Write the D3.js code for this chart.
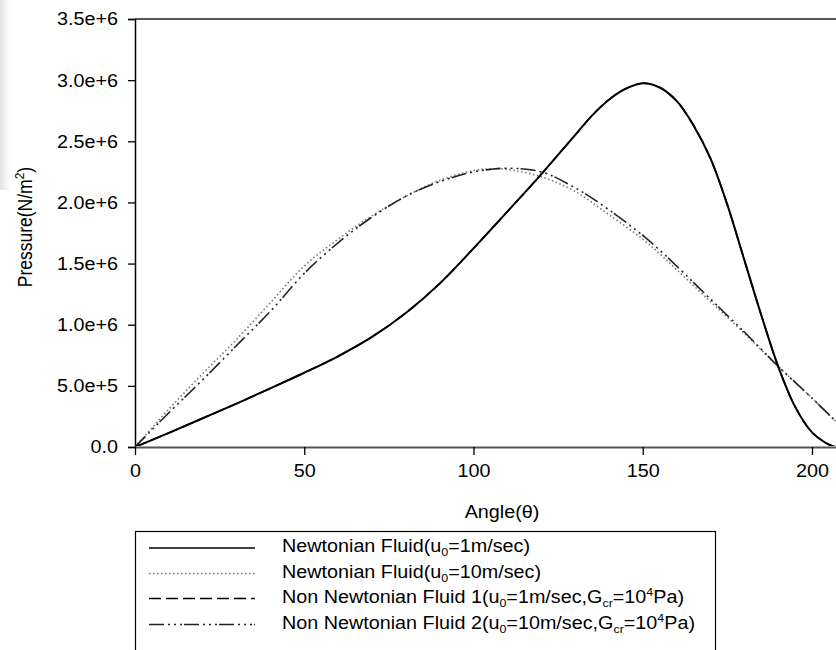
<!DOCTYPE html>
<html>
<head>
<meta charset="utf-8">
<script src="https://cdn.jsdelivr.net/npm/d3@7/dist/d3.min.js"></script>
<style>
  html, body { margin: 0; padding: 0; background: #fff; }
  svg { display: block; font-family: "Liberation Sans", Arial, sans-serif; }
</style>
</head>
<body>
<svg id="chart" width="836" height="650"></svg>
<script>
// ---- Data (pressure in units of 1e6 N/m^2) ----
const angles1 = [0, 10, 20, 30, 40, 50, 60, 70, 80, 90, 100, 110, 120, 130, 135, 140, 145, 150, 155, 160, 165, 170, 175, 180, 185, 190, 195, 200, 205, 207];
const newtonian1 = [0, 0.115, 0.235, 0.355, 0.48, 0.607, 0.742, 0.90, 1.096, 1.336, 1.624, 1.925, 2.23, 2.55, 2.71, 2.84, 2.93, 2.975, 2.94, 2.83, 2.63, 2.36, 1.98, 1.53, 1.08, 0.66, 0.33, 0.12, 0.02, 0];
const nonNewtonian1 = [0, 0.115, 0.235, 0.355, 0.48, 0.607, 0.742, 0.90, 1.096, 1.336, 1.624, 1.925, 2.23, 2.55, 2.71, 2.84, 2.93, 2.975, 2.94, 2.83, 2.63, 2.36, 1.98, 1.53, 1.08, 0.66, 0.33, 0.12, 0.02, 0];

const angles10 = [0, 10, 20, 30, 40, 50, 60, 70, 80, 90, 100, 105, 110, 120, 130, 140, 150, 155, 160, 170, 180, 190, 200, 207];
const newtonian10 = [0, 0.31, 0.60, 0.88, 1.18, 1.48, 1.70, 1.89, 2.05, 2.18, 2.26, 2.275, 2.27, 2.21, 2.09, 1.90, 1.70, 1.58, 1.45, 1.19, 0.93, 0.66, 0.40, 0.21];
const nonNewtonian2 = [0, 0.28, 0.55, 0.83, 1.11, 1.42, 1.67, 1.88, 2.05, 2.17, 2.25, 2.27, 2.28, 2.25, 2.12, 1.94, 1.73, 1.61, 1.48, 1.21, 0.94, 0.66, 0.40, 0.21];

const xTicks = [0, 50, 100, 150, 200];
const yTicks = [0, 0.5e6, 1.0e6, 1.5e6, 2.0e6, 2.5e6, 3.0e6, 3.5e6];
const yTickLabels = ["0.0", "5.0e+5", "1.0e+6", "1.5e+6", "2.0e+6", "2.5e+6", "3.0e+6", "3.5e+6"];

const seriesNames = [
  "Newtonian Fluid(u0=1m/sec)",
  "Newtonian Fluid(u0=10m/sec)",
  "Non Newtonian Fluid 1(u0=1m/sec,Gcr=10^4Pa)",
  "Non Newtonian Fluid 2(u0=10m/sec,Gcr=10^4Pa)"
];

// ---- Layout ----
const svg = d3.select("#chart");
const plotLeft = 135, plotTop = 19, plotBottom = 447;
const FS = 17.5;      // font size
const SX = 1.13;      // horizontal stretch of text seen in the reference
const x = d3.scaleLinear().domain([0, 210]).range([plotLeft, plotLeft + 210 * (677 / 200)]);
const y = d3.scaleLinear().domain([0, 3.5e6]).range([plotBottom, plotTop]);

// faint grey strip at left edge (scan artifact)
const defs = svg.append("defs");
const grad = defs.append("linearGradient").attr("id", "strip").attr("x1", 0).attr("x2", 1);
grad.append("stop").attr("offset", "0%").attr("stop-color", "#e2e2e2");
grad.append("stop").attr("offset", "100%").attr("stop-color", "#ffffff");
svg.append("rect").attr("x", 0).attr("y", 0).attr("width", 10).attr("height", 190).attr("fill", "url(#strip)");

const fmtSeries = (xs, ys) => xs.map((a, i) => ({ a: a, p: ys[i] * 1e6 }));
const line = d3.line().x(d => x(d.a)).y(d => y(d.p)).curve(d3.curveCatmullRom.alpha(0.5));

const styles = [
  { stroke: "#000", width: 2, dash: null },
  { stroke: "#777", width: 1.6, dash: "1.5,2.5" },
  { stroke: "#000", width: 1.6, dash: "12,5" },
  { stroke: "#222", width: 1.6, dash: "15,4,2,4,2,4,2,2" }
];

const series = [
  fmtSeries(angles1, newtonian1),
  fmtSeries(angles10, newtonian10),
  fmtSeries(angles1, nonNewtonian1),
  fmtSeries(angles10, nonNewtonian2)
];

// ---- Axes ----
svg.append("line").attr("x1", plotLeft).attr("x2", 836).attr("y1", plotTop).attr("y2", plotTop)
  .attr("stroke", "#555").attr("stroke-width", 2);

const yAxis = d3.axisLeft(y).tickValues(yTicks).tickSize(7).tickPadding(10)
  .tickFormat((d, i) => yTickLabels[i]);
const gy = svg.append("g").attr("transform", `translate(${plotLeft},0)`).call(yAxis);
gy.select(".domain").attr("stroke", "#000").attr("stroke-width", 1.5);
gy.selectAll(".tick line").attr("stroke", "#000").attr("stroke-width", 1.3);
gy.selectAll(".tick text").attr("font-size", FS).attr("fill", "#000")
  .attr("font-family", "Liberation Sans, Arial, sans-serif")
  .attr("x", -17 / SX).attr("dy", "0.34em")
  .attr("transform", `scale(${SX},1)`);

const xAxis = d3.axisBottom(x).tickValues(xTicks).tickSize(8).tickPadding(9).tickSizeOuter(0);
const gx = svg.append("g").attr("transform", `translate(0,${plotBottom})`).call(xAxis);
gx.select(".domain").attr("stroke", "#555").attr("stroke-width", 2);
gx.selectAll(".tick line").attr("stroke", "#000").attr("stroke-width", 1.3);
gx.selectAll(".tick text").attr("font-size", FS).attr("fill", "#000")
  .attr("font-family", "Liberation Sans, Arial, sans-serif")
  .attr("y", 30.5).attr("dy", 0)
  .attr("transform", `scale(${SX},1)`);

// ---- Curves ----
defs.append("clipPath").attr("id", "plotclip").append("rect")
  .attr("x", plotLeft).attr("y", plotTop - 2).attr("width", 836 - plotLeft).attr("height", plotBottom - plotTop + 1);
const plot = svg.append("g").attr("clip-path", "url(#plotclip)");
[1, 3, 0, 2].forEach(i => {
  plot.append("path").datum(series[i]).attr("d", line)
    .attr("fill", "none").attr("stroke", styles[i].stroke)
    .attr("stroke-width", styles[i].width)
    .attr("stroke-dasharray", styles[i].dash);
});

// ---- Axis titles ----
svg.append("text").attr("transform", `translate(502,518) scale(${SX},1)`).attr("text-anchor", "middle")
  .attr("font-size", FS).text("Angle(θ)");

const yt = svg.append("text").attr("transform", `translate(32,227) scale(${SX},1) rotate(-90)`)
  .attr("text-anchor", "middle").attr("font-size", FS);
yt.append("tspan").text("Pressure(N/m");
yt.append("tspan").attr("font-size", 12).attr("dy", -7).text("2");
yt.append("tspan").attr("dy", 7).text(")");

// ---- Legend ----
const lg = svg.append("g");
lg.append("rect").attr("x", 135.5).attr("y", 531.5).attr("width", 580).attr("height", 130)
  .attr("fill", "#fff").attr("stroke", "#000").attr("stroke-width", 1.2);

const rowY = [548, 573.5, 598.5, 624.5];
function addRich(t, parts) {
  parts.forEach(p => {
    const ts = t.append("tspan").text(p.t);
    if (p.sub) ts.attr("font-size", 11).attr("dy", 4);
    if (p.sup) ts.attr("font-size", 11).attr("dy", -7);
    if (p.back) ts.attr("dy", p.back);
  });
}
const richParts = [
  [{ t: "Newtonian Fluid(u" }, { t: "0", sub: true }, { t: "=1m/sec)", back: -4 }],
  [{ t: "Newtonian Fluid(u" }, { t: "0", sub: true }, { t: "=10m/sec)", back: -4 }],
  [{ t: "Non Newtonian Fluid 1(u" }, { t: "0", sub: true }, { t: "=1m/sec,G", back: -4 }, { t: "cr", sub: true }, { t: "=10", back: -4 }, { t: "4", sup: true }, { t: "Pa)", back: 7 }],
  [{ t: "Non Newtonian Fluid 2(u" }, { t: "0", sub: true }, { t: "=10m/sec,G", back: -4 }, { t: "cr", sub: true }, { t: "=10", back: -4 }, { t: "4", sup: true }, { t: "Pa)", back: 7 }]
];
seriesNames.forEach((name, i) => {
  lg.append("line").attr("x1", 149).attr("x2", 255).attr("y1", rowY[i]).attr("y2", rowY[i])
    .attr("stroke", styles[i].stroke).attr("stroke-width", i === 0 ? 1.6 : 1.4)
    .attr("stroke-dasharray", styles[i].dash);
  const t = lg.append("text")
    .attr("transform", `translate(282,${rowY[i] + 4}) scale(${SX},1)`)
    .attr("font-size", FS).attr("data-label", name);
  addRich(t, richParts[i]);
});
</script>
</body>
</html>
